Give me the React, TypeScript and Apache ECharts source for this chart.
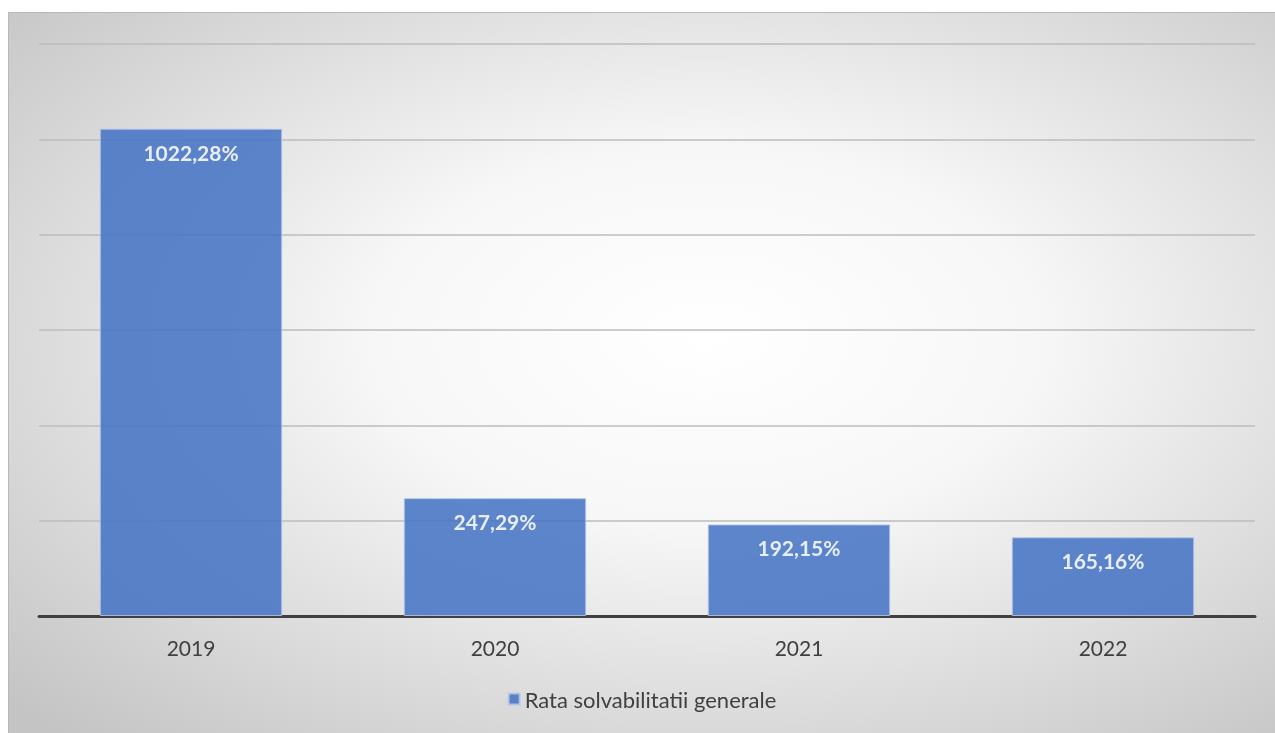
import React, { useEffect, useRef } from "react";
import * as echarts from "echarts";

const categories = ["2019", "2020", "2021", "2022"];
const values = [1022.28, 247.29, 192.15, 165.16];
const labels = ["1022,28%", "247,29%", "192,15%", "165,16%"];
const seriesName = "Rata solvabilitatii generale";

export default function App() {
  const ref = useRef<HTMLDivElement>(null);
  useEffect(() => {
    const chart = echarts.init(ref.current!, null, { renderer: "svg" });
    chart.setOption({
      animation: false,
      backgroundColor: new echarts.graphic.RadialGradient(0.55, 0.45, 0.75, [
        { offset: 0, color: "#ffffff" },
        { offset: 0.35, color: "#f7f7f7" },
        { offset: 1, color: "#c4c4c4" },
      ]),
      textStyle: { fontFamily: "Lato, 'Open Sans', sans-serif" },
      grid: { left: 30, right: 20, top: 31, bottom: 117 },
      legend: {
        bottom: 18,
        left: "center",
        icon: "rect",
        itemWidth: 11,
        itemHeight: 11,
        itemGap: 6,
        textStyle: { fontSize: 22, color: "#404040", fontFamily: "Lato, sans-serif" },
        data: [seriesName],
      },
      xAxis: {
        type: "category",
        data: categories,
        axisLine: { lineStyle: { color: "#404040", width: 3 } },
        axisTick: { show: false },
        axisLabel: { fontSize: 21, color: "#404040", margin: 21 },
      },
      yAxis: {
        type: "value",
        min: 0,
        max: 1200,
        interval: 200,
        axisLabel: { show: false },
        axisLine: { show: false },
        axisTick: { show: false },
        splitLine: { lineStyle: { color: "#bcbcbc", width: 1.5 } },
      },
      series: [
        {
          name: seriesName,
          type: "bar",
          data: values,
          barWidth: "60%",
          itemStyle: {
            color: "#4472C4",
            opacity: 0.86,
            borderColor: "#b4c7e7",
            borderWidth: 1,
          },
          label: {
            show: true,
            position: "insideTop",
            distance: 13,
            color: "#ffffff",
            fontWeight: "bold",
            fontSize: 21,
            formatter: (p: any) => labels[p.dataIndex],
          },
        },
      ],
    });
    return () => chart.dispose();
  }, []);
  return (
    <div
      ref={ref}
      style={{
        position: "fixed",
        left: 8,
        top: 12,
        width: 1267,
        height: 721,
        boxSizing: "border-box",
        borderTop: "1.5px solid #b8b8b8",
        borderLeft: "1.5px solid #b8b8b8",
      }}
    />
  );
}
